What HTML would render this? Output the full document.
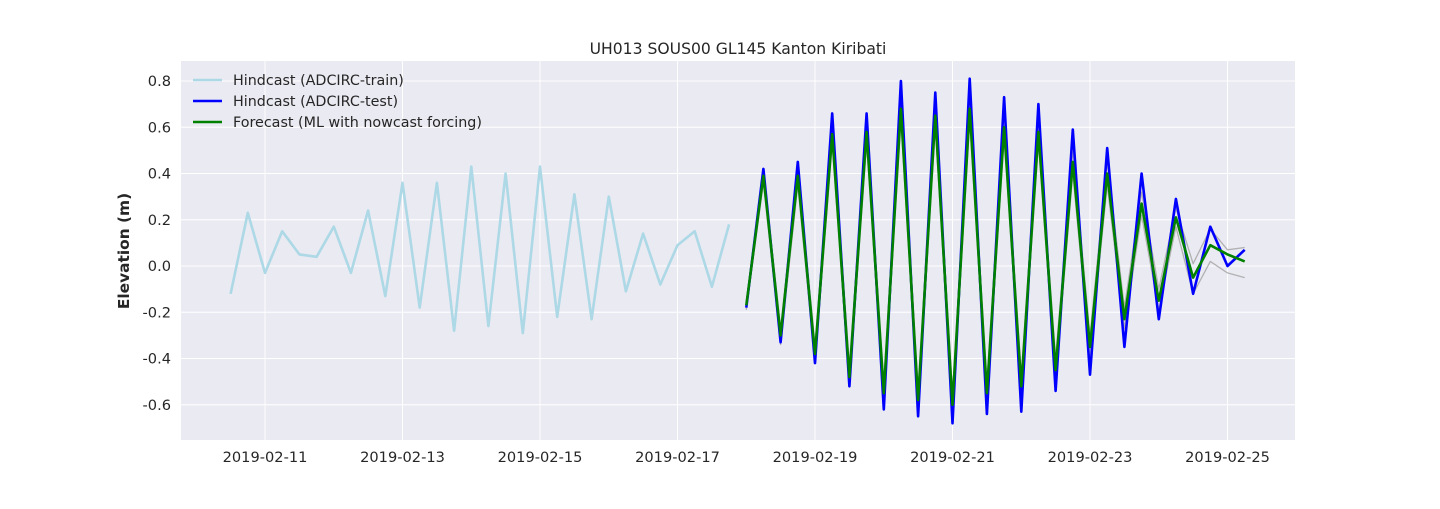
<!DOCTYPE html>
<html><head><meta charset="utf-8"><style>
body{margin:0;background:#fff;}
svg text{font-family:"DejaVu Sans","Liberation Sans",sans-serif;fill:#262626;}
</style></head><body>
<svg width="1440" height="504" viewBox="0 0 1440 504">
<g id="root"></g>
</svg>
<script>
const trainValues=[-0.12,0.23,-0.03,0.15,0.05,0.04,0.17,-0.03,0.24,-0.13,0.36,-0.18,0.36,-0.28,0.43,-0.26,0.40,-0.29,0.43,-0.22,0.31,-0.23,0.30,-0.11,0.14,-0.08,0.09,0.15,-0.09,0.18];
const testValues=[-0.18,0.42,-0.33,0.45,-0.42,0.66,-0.52,0.66,-0.62,0.80,-0.65,0.75,-0.68,0.81,-0.64,0.73,-0.63,0.70,-0.54,0.59,-0.47,0.51,-0.35,0.40,-0.23,0.29,-0.12,0.17,0.00,0.07];
const forecastValues=[-0.17,0.39,-0.30,0.39,-0.38,0.57,-0.48,0.58,-0.55,0.68,-0.58,0.65,-0.60,0.68,-0.55,0.60,-0.52,0.58,-0.45,0.45,-0.35,0.40,-0.23,0.27,-0.15,0.21,-0.05,0.09,0.05,0.02];
const upperValues=[-0.15,0.42,-0.27,0.43,-0.34,0.62,-0.43,0.63,-0.50,0.73,-0.53,0.70,-0.55,0.73,-0.50,0.65,-0.47,0.63,-0.40,0.50,-0.30,0.45,-0.18,0.32,-0.10,0.25,0.01,0.16,0.07,0.08];
const lowerValues=[-0.19,0.36,-0.34,0.35,-0.42,0.53,-0.52,0.53,-0.59,0.63,-0.62,0.60,-0.64,0.63,-0.59,0.55,-0.56,0.53,-0.49,0.40,-0.39,0.35,-0.27,0.22,-0.19,0.17,-0.12,0.02,-0.03,-0.05];
const trainStart=-0.5, testStart=7.0, step=0.25; // days since 2019-02-11
const xTicks=["2019-02-11","2019-02-13","2019-02-15","2019-02-17","2019-02-19","2019-02-21","2019-02-23","2019-02-25"];
const xTickDays=[0,2,4,6,8,10,12,14];
const yTicks=[-0.6,-0.4,-0.2,0.0,0.2,0.4,0.6,0.8];

const L=181,R=1295,T=61,B=440;
const X=d=>265+d*68.75;
const Y=v=>266-v*231.25;
const NS="http://www.w3.org/2000/svg";
const root=document.getElementById('root');
function mk(tag,attrs,parent){const e=document.createElementNS(NS,tag);for(const k in attrs)e.setAttribute(k,attrs[k]);(parent||root).appendChild(e);return e;}

const bg=mk('rect',{x:L,y:T,width:R-L,height:B-T,fill:'#eaeaf2'});


xTickDays.forEach((d,i)=>{
  const g=mk('line',{x1:X(d),x2:X(d),y1:T,y2:B,stroke:'#fff','stroke-width':1});
  
  
  const t=mk('text',{x:X(d),y:462,'text-anchor':'middle','font-size':14.6});
  t.textContent=xTicks[i];
  
  
});
yTicks.forEach(v=>{
  const g=mk('line',{x1:L,x2:R,y1:Y(v),y2:Y(v),stroke:'#fff','stroke-width':1});
  
  
  const t=mk('text',{x:171,y:Y(v)+5,'text-anchor':'end','font-size':14.6});
  t.textContent=v.toFixed(1);
  
  
});
function line(vals,start,color,w,name,op){
  const pts=vals.map((v,i)=>X(start+i*step).toFixed(1)+','+Y(v).toFixed(1)).join(' ');
  const p=mk('polyline',{points:pts,fill:'none',stroke:color,'stroke-width':w,'stroke-linejoin':'round','stroke-opacity':op||1});
  
  
}
line(trainValues,trainStart,'#add8e6',2.6,'train-line');
line(upperValues,testStart,'#999',1.3,'upper-bound-line',0.7);
line(lowerValues,testStart,'#999',1.3,'lower-bound-line',0.7);
line(testValues,testStart,'#0000ff',2.6,'test-line');
line(forecastValues,testStart,'#008000',2.6,'forecast-line');

const title=mk('text',{x:738,y:54,'text-anchor':'middle','font-size':15.6});
title.textContent='UH013 SOUS00 GL145 Kanton Kiribati';


const yl=mk('text',{x:0,y:0,'text-anchor':'middle','font-size':15.4,'font-weight':'bold',transform:'translate(129,251) rotate(-90)'});
yl.textContent='Elevation (m)';



const legend=[['Hindcast (ADCIRC-train)','#add8e6'],['Hindcast (ADCIRC-test)','#0000ff'],['Forecast (ML with nowcast forcing)','#008000']];
legend.forEach((l,i)=>{
  const y=80+i*21;
  const g=mk('g',{});
  
  
  mk('line',{x1:193,x2:222,y1:y,y2:y,stroke:l[1],'stroke-width':2.6},g);
  const t=mk('text',{x:233,y:y+5,'font-size':14.3},g);
  t.textContent=l[0];
});
</script>
</body></html>
